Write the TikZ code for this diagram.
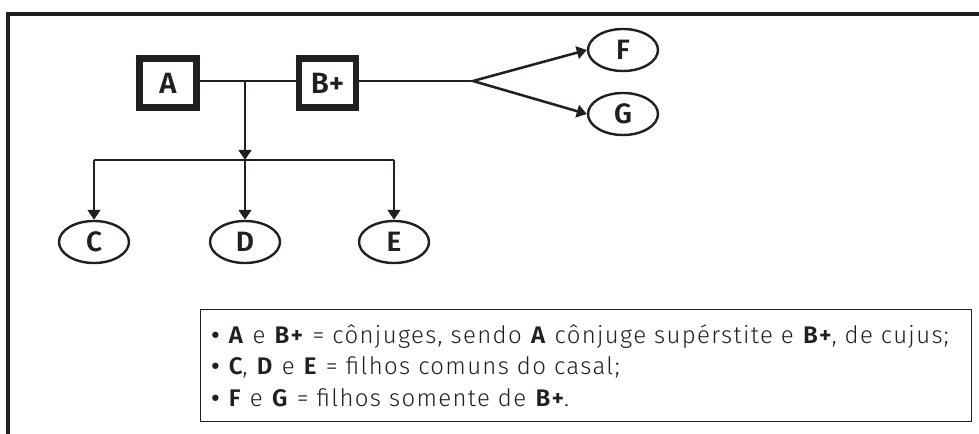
\documentclass[tikz,border=0pt]{standalone}
\usepackage{fontspec}
\setmainfont{Fira Sans Light}[BoldFont={Fira Sans SemiBold}, LetterSpace=5.5, WordSpace=1.7]
\newfontfamily\rotulo{Fira Sans SemiBold}
\usetikzlibrary{arrows.meta,shapes.geometric}
\definecolor{ink}{HTML}{231F20}
\tikzset{
    pessoa/.style={draw=ink, line width=4.9pt, minimum width=43pt, minimum height=36.5pt, inner sep=0pt, font=\rotulo\fontsize{22}{26}\selectfont},
    filho/.style={draw=ink, ellipse, line width=1.8pt, minimum width=52.5pt, minimum height=31.5pt, inner sep=0pt, font=\rotulo\fontsize{21}{25}\selectfont},
    liga/.style={draw=ink, line width=1.9pt},
    seta/.style={liga, -{Triangle[length=7.5pt,width=9.5pt]}},
}
\begin{document}
\begin{tikzpicture}[x=0.75pt, y=-0.75pt, text=ink]
    \useasboundingbox (0,0) rectangle (979,434);
    % moldura
    \draw[ink, line width=2.3pt] (979,14) -- (8,14) -- (8,434);
    \node[pessoa] (A) at (168,83) {A};
    \node[pessoa] (B) at (327.5,83) {B+};
    \node[filho] (C) at (94,242) {C};
    \node[filho] (D) at (245,242) {D};
    \node[filho] (E) at (394,242) {E};
    \node[filho] (F) at (623,50) {F};
    \node[filho] (G) at (623,114) {G};
    \coordinate (casal) at (245,81);
    \coordinate (barra) at (245,160);
    \coordinate (ramo) at (473,81);
    \draw[liga] (A.east |- casal) -- (B.west |- casal);
    \draw[seta] (casal) -- (barra);
    \draw[liga] (C |- barra) -- (E |- barra);
    \draw[seta] (C |- barra) -- (C.north);
    \draw[seta] (barra) -- (D.north);
    \draw[seta] (E |- barra) -- (E.north);
    \draw[liga] (B.east |- ramo) -- (ramo);
    \draw[seta] (ramo) -- (F.west);
    \draw[seta] (ramo) -- (G.west);
    % legenda
    \node[draw=ink, line width=1.1pt, anchor=north west, minimum width=576.75pt, minimum height=84pt,
          text width=562pt, inner xsep=8pt, align=left, font=\fontsize{18}{23.5}\selectfont] (leg) at (200,309)
        {\textbf{\textbullet} \textbf{A} e \textbf{B+} = cônjuges, sendo \textbf{A} cônjuge supérstite e \textbf{B+}, de cujus;\\
         \textbf{\textbullet} \textbf{C}, \textbf{D} e \textbf{E} = filhos comuns do casal;\\
         \textbf{\textbullet} \textbf{F} e \textbf{G} = filhos somente de \textbf{B+}.};
\end{tikzpicture}
\end{document}
